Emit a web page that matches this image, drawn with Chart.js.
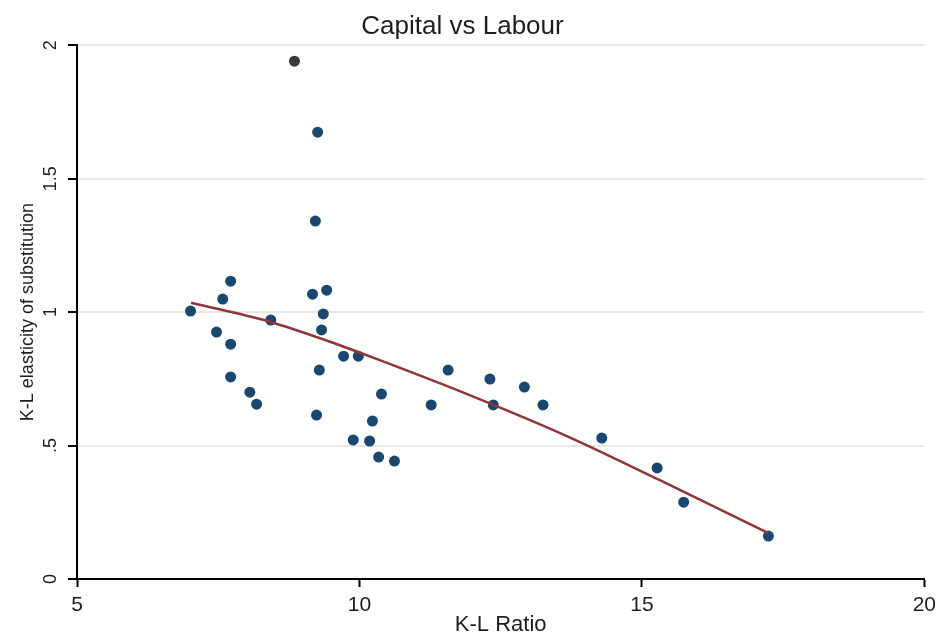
<!DOCTYPE html>
<html>
<head>
<meta charset="utf-8">
<script src="https://cdn.jsdelivr.net/npm/chart.js@4/dist/chart.umd.min.js"></script>
<style>
  body { margin: 0; background: #fff; }
  #wrap { width: 942px; height: 638px; position: relative; }
</style>
</head>
<body>
<div id="wrap"><canvas id="klChart"></canvas></div>
<script>
// --- Data ---
const klRatio = [8.85, 9.26, 9.22, 7.01, 7.72, 7.58, 8.43, 7.47, 7.72, 7.72, 8.06, 8.18,
  9.17, 9.42, 9.36, 9.33, 9.72, 9.98, 9.29, 9.24, 10.39, 10.23, 9.89, 10.18, 10.34, 10.62,
  11.27, 11.57, 12.31, 12.37, 12.92, 13.25, 14.29, 15.27, 15.74, 17.24];
const elasticity = [1.94, 1.674, 1.341, 1.004, 1.116, 1.049, 0.970, 0.925, 0.880, 0.757, 0.700, 0.655,
  1.067, 1.082, 0.993, 0.933, 0.835, 0.835, 0.783, 0.614, 0.693, 0.592, 0.521, 0.517, 0.457, 0.442,
  0.652, 0.783, 0.749, 0.652, 0.719, 0.652, 0.528, 0.416, 0.288, 0.161];

// fitted curve
const fitX = [7.02, 8.41, 9.48, 10.36, 11.95, 13.72, 15.31, 17.24];
const fitY = [1.035, 0.964, 0.889, 0.820, 0.689, 0.531, 0.371, 0.172];

const yTickLabels = { 0: '0', 0.5: '.5', 1: '1', 1.5: '1.5', 2: '2' };

const navy = '#1a476f';
const maroon = '#90353b';
const textColor = '#1e1e1e';

Chart.defaults.font.family = '"Liberation Sans", Arial, sans-serif';
Chart.defaults.color = textColor;

// y labels in Stata are turned on their side, so draw them here
const rotatedYLabels = {
  id: 'rotatedYLabels',
  afterDraw(chart) {
    const sc = chart.scales.y;
    const ctx = chart.ctx;
    ctx.save();
    ctx.fillStyle = textColor;
    ctx.font = '18px "Liberation Sans", Arial, sans-serif';
    ctx.textAlign = 'center';
    ctx.textBaseline = 'middle';
    sc.ticks.forEach(t => {
      const y = sc.getPixelForValue(t.value);
      ctx.save();
      ctx.translate(51, y);
      ctx.rotate(-Math.PI / 2);
      ctx.fillText(yTickLabels[t.value], 0, 0);
      ctx.restore();
    });
    ctx.restore();
  }
};

const points = klRatio.map((x, i) => ({ x: x, y: elasticity[i] }));
const fitLine = fitX.map((x, i) => ({ x: x, y: fitY[i] }));

new Chart(document.getElementById('klChart'), {
  type: 'scatter',
  data: {
    datasets: [
      {
        type: 'line',
        data: fitLine,
        borderColor: maroon,
        borderWidth: 2.5,
        pointRadius: 0,
        cubicInterpolationMode: 'monotone',
        fill: false,
        order: 0
      },
      {
        data: points,
        pointRadius: 5.5,
        pointBorderWidth: 0,
        pointBackgroundColor: points.map((p, i) => i === 0 ? '#3a3a3a' : navy),
        order: 1
      }
    ]
  },
  options: {
    responsive: true,
    maintainAspectRatio: false,
    animation: false,
    layout: { padding: { left: 0, right: 17, top: 0, bottom: 0 } },
    plugins: {
      legend: { display: false },
      tooltip: { enabled: false },
      title: {
        display: true,
        text: 'Capital vs Labour',
        font: { size: 26, weight: 'normal' },
        color: textColor,
        padding: { top: 11, bottom: 3 }
      }
    },
    scales: {
      x: {
        type: 'linear',
        min: 5,
        max: 20,
        ticks: { stepSize: 5, font: { size: 21 }, color: textColor, padding: 6 },
        grid: { drawOnChartArea: false, drawTicks: true, tickLength: 8, tickColor: '#000', tickWidth: 2 },
        border: { color: '#000', width: 2 },
        title: { display: true, text: 'K-L Ratio', font: { size: 22 }, color: textColor, padding: { top: 0, bottom: 0 } },
        afterFit(scale) { scale.height = 59; }
      },
      y: {
        min: 0,
        max: 2,
        ticks: { stepSize: 0.5, display: false },
        grid: {
          color: c => c.tick && c.tick.value === 0 ? 'rgba(0,0,0,0)' : '#e6e6e6',
          lineWidth: 2,
          drawTicks: true,
          tickLength: 9,
          tickColor: '#000',
          tickWidth: 2
        },
        border: { color: '#000', width: 2 },
        title: { display: true, text: 'K-L elasticity of substitution', font: { size: 18 }, color: textColor, padding: { top: 17, bottom: 0 } },
        afterFit(scale) { scale.width = 77; }
      }
    }
  },
  plugins: [rotatedYLabels]
});
</script>
</body>
</html>
